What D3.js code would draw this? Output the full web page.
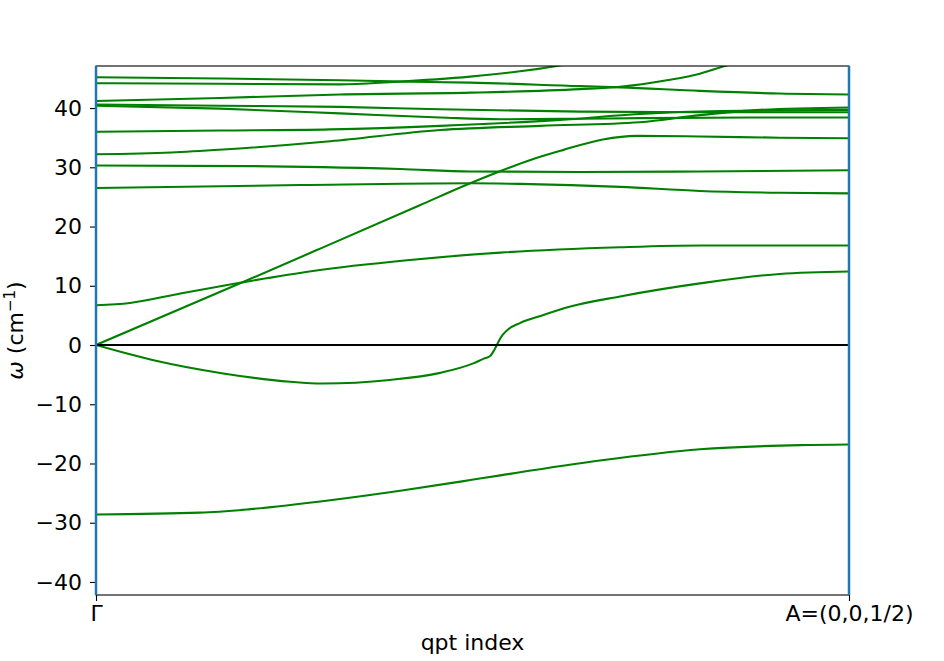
<!DOCTYPE html>
<html>
<head>
<meta charset="utf-8">
<script src="https://cdn.jsdelivr.net/npm/d3@7"></script>
<style>
    body { margin: 0; background: #fff; }
    svg { display: block; }
</style>
</head>
<body>
<svg id="phonon_bands" width="944" height="661"></svg>
<script>
// q runs from Gamma (0) to A (1), omega in cm^-1
const qTicks = [0, 1]
const qTickLabels = ["Γ", "A=(0,0,1/2)"]
const omegaTicks = [-40, -30, -20, -10, 0, 10, 20, 30, 40]

const band01 = [[0, -28.6], [0.138, -28.3], [0.205, -27.7], [0.311, -26.2], [0.404, -24.6], [0.497, -22.8],
    [0.537, -22.0], [0.669, -19.5], [0.802, -17.6], [0.935, -16.9], [1, -16.8]]
const band02 = [[0, 0], [0.04, -1.4], [0.081, -2.7], [0.169, -4.8], [0.258, -6.2], [0.301, -6.5], [0.39, -5.9],
    [0.457, -4.7], [0.501, -3.1], [0.515, -2.3], [0.523, -1.9], [0.54, 1.7], [0.548, 2.7], [0.563, 3.7], [0.59, 4.9],
    [0.63, 6.5], [0.696, 8.2], [0.802, 10.4], [0.908, 12.0], [1, 12.4]]
const band03 = [[0, 0], [0.193, 10.5], [0.3, 16.4], [0.43, 23.6], [0.493, 27.1], [0.534, 29.2], [0.576, 31.2],
    [0.62, 32.9], [0.673, 34.7], [0.718, 35.3], [0.802, 35.2], [0.908, 35.0], [1, 34.9]]
const band04 = [[0, 6.7], [0.045, 7.1], [0.112, 8.7], [0.191, 10.5], [0.288, 12.5], [0.413, 14.3],
    [0.537, 15.6], [0.696, 16.5], [0.802, 16.8], [1, 16.8]]
const band05 = [[0, 26.5], [0.271, 27.0], [0.497, 27.3], [0.563, 27.2], [0.696, 26.7], [0.802, 26.0],
    [0.908, 25.7], [1, 25.6]]
const band06 = [[0, 30.3], [0.205, 30.2], [0.404, 29.7], [0.497, 29.3], [0.643, 29.2], [0.802, 29.3], [1, 29.5]]
const band07 = [[0, 32.2], [0.1, 32.5], [0.169, 33.0], [0.311, 34.4], [0.457, 36.3], [0.59, 37.0],
    [0.722, 37.6], [0.802, 38.8], [0.882, 39.7], [1, 40.1]]
const band08 = [[0, 36.0], [0.165, 36.2], [0.311, 36.4], [0.457, 37.0], [0.616, 38.0], [0.722, 39.0],
    [0.829, 39.5], [1, 39.7]]
const band09 = [[0, 40.4], [0.165, 39.9], [0.324, 39.1], [0.457, 38.4], [0.537, 38.1], [0.643, 38.2],
    [0.722, 38.3], [0.869, 38.4], [1, 38.4]]
const band10 = [[0, 40.6], [0.165, 40.4], [0.324, 40.2], [0.457, 39.8], [0.643, 39.4], [0.802, 39.3], [1, 39.3]]
const band11 = [[0, 41.2], [0.165, 41.7], [0.324, 42.3], [0.497, 42.6], [0.643, 43.2], [0.696, 43.6],
    [0.758, 44.7], [0.802, 45.8], [0.835, 47.1], [0.882, 48.8]]
const band12 = [[0, 44.2], [0.165, 44.1], [0.324, 44.0], [0.394, 44.4], [0.497, 45.3], [0.563, 46.2],
    [0.612, 47.1], [0.67, 48.5]]
const band13 = [[0, 45.2], [0.165, 45.0], [0.324, 44.7], [0.394, 44.5], [0.497, 44.3], [0.643, 43.7],
    [0.696, 43.5], [0.802, 42.9], [0.908, 42.45], [1, 42.3]]

const bands = [band01, band02, band03, band04, band05, band06, band07,
    band08, band09, band10, band11, band12, band13]

function drawBands() {
    const margins = { top: 66, bottom: 66, right: 95, left: 96 }
    const FONT = "DejaVu Sans, sans-serif"
    const FONT_SIZE = 22

    const svg = d3.select("#phonon_bands")
    const width = +svg.attr("width") - margins.left - margins.right
    const height = +svg.attr("height") - margins.top - margins.bottom

    const xRange = d3.scaleLinear().domain([0, 1]).range([0, width])
    const yRange = d3.scaleLinear().domain([-42.2, 47.1]).range([height, 0])

    svg.append("defs").append("clipPath")
        .attr("id", "plot_clip")
        .append("rect")
        .attr("width", width)
        .attr("height", height)

    const g = svg.append("g")
        .attr("transform", "translate(" + margins.left + "," + margins.top + ")")

    const line = d3.line()
        .x(d => xRange(d[0]))
        .y(d => yRange(d[1]))
        .curve(d3.curveMonotoneX)

    const plot = g.append("g").attr("clip-path", "url(#plot_clip)")

    plot.selectAll(".band")
        .data(bands)
        .enter()
        .append("path")
        .attr("class", "band")
        .attr("d", line)
        .attr("fill", "none")
        .attr("stroke", "green")
        .attr("stroke-width", 2.1)

    // omega = 0 reference
    plot.append("line")
        .attr("x1", 0)
        .attr("x2", width)
        .attr("y1", yRange(0))
        .attr("y2", yRange(0))
        .attr("stroke", "black")
        .attr("stroke-width", 2.1)

    const xAxis = g.append("g")
        .attr("transform", "translate(0," + height + ")")
        .call(d3.axisBottom(xRange)
            .tickValues(qTicks)
            .tickFormat((d, i) => qTickLabels[i])
            .tickSize(6)
            .tickPadding(4))
    xAxis.select(".domain").remove()

    const yAxis = g.append("g")
        .call(d3.axisLeft(yRange)
            .tickValues(omegaTicks)
            .tickSize(6)
            .tickPadding(8))
    yAxis.select(".domain").remove()

    g.selectAll(".tick text")
        .attr("font-family", FONT)
        .attr("font-size", FONT_SIZE)
        .attr("fill", "black")
    g.selectAll(".tick line")
        .attr("stroke", "black")
        .attr("stroke-width", 1.1)

    g.append("rect")
        .attr("width", width)
        .attr("height", height)
        .attr("fill", "none")
        .attr("stroke", "black")
        .attr("stroke-width", 1.1)

    // high symmetry points, over the frame
    g.selectAll(".hsp")
        .data(qTicks)
        .enter()
        .append("line")
        .attr("class", "hsp")
        .attr("x1", d => xRange(d))
        .attr("x2", d => xRange(d))
        .attr("y1", 0)
        .attr("y2", height)
        .attr("stroke", "#1f77b4")
        .attr("stroke-width", 2.5)

    svg.append("text")
        .attr("x", margins.left + width / 2)
        .attr("y", 650)
        .attr("text-anchor", "middle")
        .attr("font-family", FONT)
        .attr("font-size", FONT_SIZE)
        .text("qpt index")

    const ylabel = svg.append("text")
        .attr("transform", "translate(23," + (margins.top + height / 2) + ") rotate(-90)")
        .attr("text-anchor", "middle")
        .attr("font-family", FONT)
        .attr("font-size", FONT_SIZE)
    ylabel.append("tspan").attr("font-style", "italic").text("ω")
    ylabel.append("tspan").text(" (cm")
    ylabel.append("tspan").attr("font-size", 15).attr("dy", -8).text("−1")
    ylabel.append("tspan").attr("dy", 8).text(")")
}

drawBands()
</script>
</body>
</html>
